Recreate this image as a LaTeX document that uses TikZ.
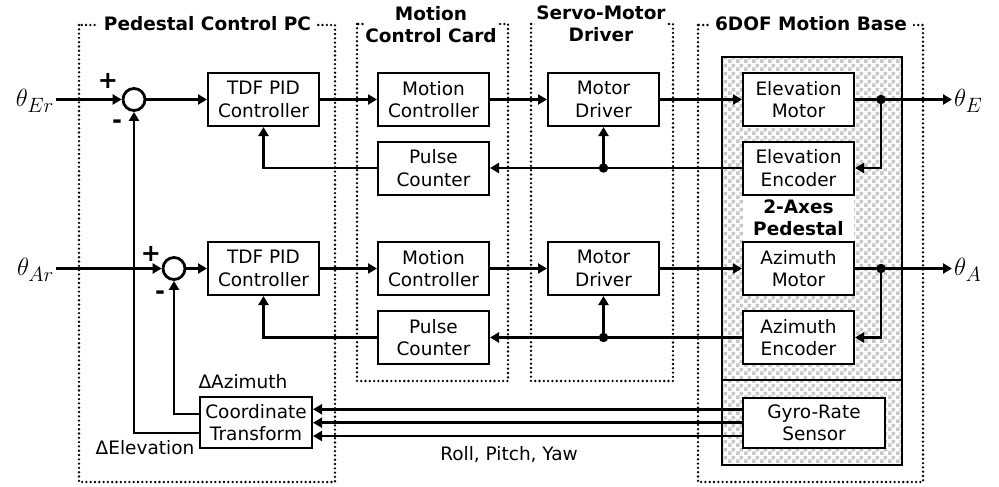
\documentclass[tikz,border=0pt]{standalone}
\usepackage{fontspec}
\setmainfont{DejaVu Sans}
\usetikzlibrary{arrows.meta,patterns}
\pgfdeclarepatternformonly{bigcheck}{\pgfpointorigin}{\pgfqpoint{8pt}{8pt}}{\pgfqpoint{8pt}{8pt}}{%
  \pgfpathrectangle{\pgfpointorigin}{\pgfqpoint{4pt}{4pt}}%
  \pgfpathrectangle{\pgfqpoint{4pt}{4pt}}{\pgfqpoint{4pt}{4pt}}%
  \pgfusepath{fill}}
\tikzset{
  x=1pt,y=-1pt,
  txt/.style={font=\fontsize{18.5}{22.5}\selectfont, align=center},
  ttl/.style={font=\fontsize{18.5}{22}\selectfont\bfseries, align=center, fill=white, inner xsep=6pt, inner ysep=0pt},
  blk/.style={txt, draw, line width=2pt, fill=white, minimum width=111pt, minimum height=53pt, inner sep=1pt},
  sumc/.style={circle, draw, line width=2.8pt, minimum size=22pt, inner sep=0pt, fill=white},
  conn/.style={line width=2.8pt, -{Triangle[length=9pt,width=10pt]}},
  jdot/.style={circle, fill=black, minimum size=9.5pt, inner sep=0pt},
  dotbox/.style={line width=2.6pt, dash pattern=on 0pt off 4.3pt, line cap=round},
  lab/.style={font=\fontsize{32}{36}\selectfont, inner sep=2pt},
  sgn/.style={font=\fontsize{24}{26}\selectfont\bfseries, inner sep=0pt}
}
\begin{document}
\begin{tikzpicture}
\useasboundingbox (0,0) rectangle (999,487);
% dotted groups
\draw[dotbox] (79,25) rectangle (335,482);
\draw[dotbox] (357,24) rectangle (508,381);
\draw[dotbox] (531,24) rectangle (673,381);
\draw[dotbox] (698,25) rectangle (923,482);
\node[ttl] (tpc) at (207.5,24) {Pedestal Control PC};
\node[ttl, inner xsep=1pt] (tmc) at (431,25) {Motion\\Control Card};
\node[ttl, inner xsep=1pt] (tsd) at (601,24) {Servo-Motor\\Driver};
\node[ttl] (tmb) at (811,24) {6DOF Motion Base};
% checkered pedestal area
\fill[white] (722,57) rectangle (902,465);
\fill[pattern=bigcheck, pattern color=black!22] (722,57) rectangle (902,465);
\draw[line width=2pt] (722,57) rectangle (902,465);
\draw[line width=2pt] (722,380) -- (902,380);
\node[txt, font=\fontsize{18.5}{22}\selectfont\bfseries, fill=white, minimum width=111pt, minimum height=50pt, inner sep=0pt] (ped) at (798.5,218) {2-Axes\\Pedestal};
% top row
\node[sumc] (sum1) at (134,99.5) {};
\node[blk] (pid1) at (263.5,99.5) {TDF PID\\Controller};
\node[blk] (mc1) at (433.5,99.5) {Motion\\Controller};
\node[blk] (md1) at (603.5,99.5) {Motor\\Driver};
\node[blk] (em) at (798.5,99.5) {Elevation\\Motor};
\node[blk] (ee) at (798.5,168) {Elevation\\Encoder};
\node[blk] (pc1) at (433.5,168) {Pulse\\Counter};
\node[jdot] (j1) at (881,99.5) {};
\node[jdot] (d1) at (603.5,168) {};
% bottom row
\node[sumc] (sum2) at (174,268.5) {};
\node[blk] (pid2) at (263.5,268.5) {TDF PID\\Controller};
\node[blk] (mc2) at (433.5,268.5) {Motion\\Controller};
\node[blk] (md2) at (603.5,268.5) {Motor\\Driver};
\node[blk] (am) at (798.5,268.5) {Azimuth\\Motor};
\node[blk] (ae) at (798.5,337.5) {Azimuth\\Encoder};
\node[blk] (pc2) at (433.5,337.5) {Pulse\\Counter};
\node[jdot] (j2) at (881,268.5) {};
\node[jdot] (d2) at (603.5,337.5) {};
% transform and gyro
\node[blk, minimum width=112pt, minimum height=51pt] (ct) at (256,422.5) {Coordinate\\Transform};
\node[blk, minimum width=142pt, minimum height=50pt] (gy) at (814,423) {Gyro-Rate\\Sensor};
% labels
\node[lab, anchor=east] (ter) at (56,101) {$\theta_{Er}$};
\node[lab, anchor=east] (tar) at (56,270) {$\theta_{Ar}$};
\node[lab, anchor=west] (te) at (952,101) {$\theta_{E}$};
\node[lab, anchor=west] (ta) at (952,270) {$\theta_{A}$};
\node[sgn] (p1) at (108,81) {+};
\node[sgn] (m1) at (117,124) {-};
\node[sgn] (p2) at (151,254) {+};
\node[sgn] (m2) at (160,295) {-};
\node[txt] (laz) at (243,382) {ΔAzimuth};
\node[txt] (lel) at (145,448) {ΔElevation};
\node[txt] (rpy) at (509,455) {Roll, Pitch, Yaw};
% top connectors
\draw[conn] (ter.east |- sum1.west) -- (sum1.west);
\draw[conn] (sum1.east) -- (pid1.west);
\draw[conn] (pid1.east) -- (mc1.west);
\draw[conn] (mc1.east) -- (md1.west);
\draw[conn] (md1.east) -- (em.west);
\draw[conn] (em.east) -- (em.east -| te.west);
\draw[conn] (j1.center) |- (ee.east);
\draw[conn] (ee.west) -- (pc1.east);
\draw[conn] (d1.center) -- (md1.south);
\draw[conn] (pc1.west) -| (pid1.south);
% bottom connectors
\draw[conn] (tar.east |- sum2.west) -- (sum2.west);
\draw[conn] (sum2.east) -- (pid2.west);
\draw[conn] (pid2.east) -- (mc2.west);
\draw[conn] (mc2.east) -- (md2.west);
\draw[conn] (md2.east) -- (am.west);
\draw[conn] (am.east) -- (am.east -| ta.west);
\draw[conn] (j2.center) |- (ae.east);
\draw[conn] (ae.west) -- (pc2.east);
\draw[conn] (d2.center) -- (md2.south);
\draw[conn] (pc2.west) -| (pid2.south);
% transform feedback
\draw[conn] (ct.west |- 0,433) -| (sum1.south);
\draw[conn] (ct.west |- 0,414) -| (sum2.south);
\draw[conn] (gy.west |- 0,409.3) -- (ct.east |- 0,409.3);
\draw[conn] (gy.west |- 0,422.7) -- (ct.east |- 0,422.7);
\draw[conn] (gy.west |- 0,436) -- (ct.east |- 0,436);
\end{tikzpicture}
\end{document}
